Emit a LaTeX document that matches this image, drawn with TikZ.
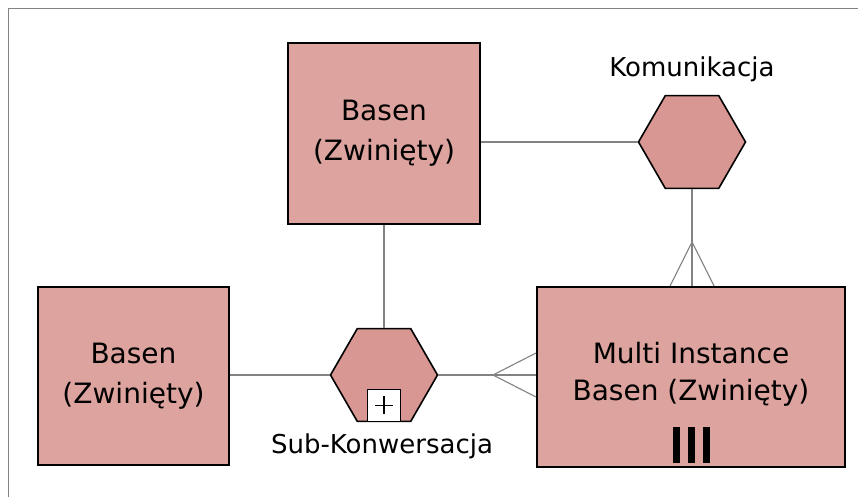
\documentclass[tikz,border=0pt]{standalone}
\usepackage{fontspec}
\setmainfont{DejaVu Sans}
\usetikzlibrary{shapes.geometric,calc}
\definecolor{boxfill}{RGB}{221,163,158}
\definecolor{hexfill}{RGB}{216,151,146}
\definecolor{linegray}{RGB}{130,130,130}
\begin{document}
\begin{tikzpicture}[x=1pt,y=-1pt]
  \tikzset{
    ent/.style={draw=black, line width=2pt, fill=boxfill, inner sep=0pt, align=center, font=\fontsize{28}{40}\selectfont},
    txt/.style={align=center, font=\fontsize{28}{37}\selectfont},
    hex/.style={regular polygon, regular polygon sides=6, minimum size=107pt, inner sep=0pt, draw=black, line width=1.6pt, fill=hexfill},
    lbl/.style={anchor=base, font=\fontsize{26}{30}\selectfont},
    link/.style={draw=linegray, line width=1.1pt},
  }

  \useasboundingbox (0,0) rectangle (861,497);
  \draw[linegray, line width=1pt] (8,497) -- (8,9) -- (858,9);

  \node[ent, minimum width=192pt, minimum height=181pt] (top) at (384,133.5) {Basen\\(Zwinięty)};
  \node[ent, minimum width=191pt, minimum height=178pt] (left) at (133.5,376) {Basen\\(Zwinięty)};
  \node[ent, minimum width=308pt, minimum height=180pt] (multi) at (691,377) {};
  \node[txt] (multitxt) at (691,374) {Multi Instance\\Basen (Zwinięty)};

  \node[hex] (kom) at (692,142) {};
  \node[hex] (sub) at (384,375) {};
  \node[lbl] (komlbl) at (692,77) {Komunikacja};
  \node[lbl] (sublbl) at (382,453) {Sub-Konwersacja};

  \node[draw=black, fill=white, line width=1.4pt, minimum width=33pt, minimum height=32pt, anchor=south] (plus) at (sub.south) {};
  \draw[line width=1.8pt] ($(plus.center)+(-9,0)$) -- ($(plus.center)+(9,0)$);
  \draw[line width=1.8pt] ($(plus.center)+(0,-9)$) -- ($(plus.center)+(0,9)$);

  \foreach \x in {676,691,706}
    \fill[black] (\x-3.5,427) rectangle (\x+3.5,463);

  \draw[link] (top.east |- kom) -- (kom.west);
  \draw[link] (top.south) -- (sub.north);
  \draw[link] (left.east |- sub) -- (sub.west);

  \coordinate (cfw) at ($(multi.west |- sub)+(-43,0)$);
  \draw[link] (sub.east) -- (multi.west |- sub);
  \draw[link] ($(multi.west |- sub)+(0,-22)$) -- (cfw) -- ($(multi.west |- sub)+(0,22)$);

  \coordinate (cfn) at ($(kom.south |- multi.north)+(0,-44)$);
  \draw[link] (kom.south) -- (kom.south |- multi.north);
  \draw[link] ($(kom.south |- multi.north)+(-22,0)$) -- (cfn) -- ($(kom.south |- multi.north)+(22,0)$);
\end{tikzpicture}
\end{document}
